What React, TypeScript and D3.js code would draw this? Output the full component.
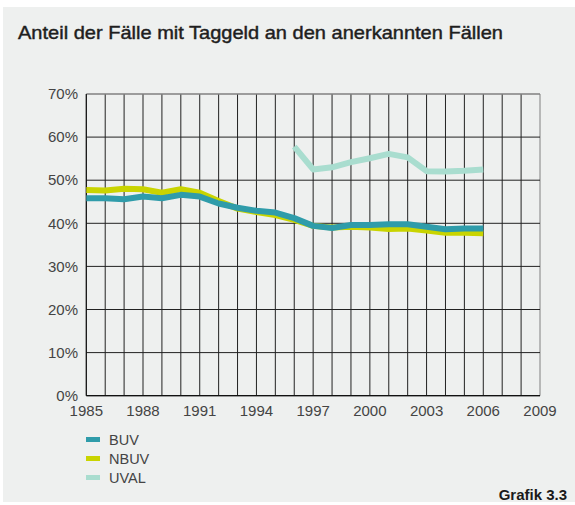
import React from "react";
import * as d3 from "d3";

// Daten (Prozent)
const years = [1985, 1986, 1987, 1988, 1989, 1990, 1991, 1992, 1993, 1994, 1995, 1996, 1997, 1998, 1999, 2000, 2001, 2002, 2003, 2004, 2005, 2006];
const buv = [45.8, 45.8, 45.6, 46.2, 45.8, 46.6, 46.2, 44.6, 43.6, 42.9, 42.5, 41.2, 39.4, 38.9, 39.6, 39.6, 39.8, 39.8, 39.2, 38.6, 38.8, 38.8];
const nbuv = [47.7, 47.6, 48.0, 47.9, 47.1, 47.9, 47.1, 45.2, 43.4, 42.6, 41.9, 40.8, 39.4, 39.0, 39.2, 39.0, 38.7, 38.8, 38.3, 37.8, 37.8, 37.7];
const uvalYears = [1996, 1997, 1998, 1999, 2000, 2001, 2002, 2003, 2004, 2005, 2006];
const uval = [57.8, 52.5, 53.0, 54.2, 55.1, 56.1, 55.3, 52.1, 52.0, 52.2, 52.5];
const xTicks = [1985, 1988, 1991, 1994, 1997, 2000, 2003, 2006, 2009];
const yTicks = [0, 10, 20, 30, 40, 50, 60, 70];
const seriesNames = ["BUV", "NBUV", "UVAL"];
const seriesColors = ["#2f9caa", "#c9d400", "#a9ddcf"];

const W = 575;
const H = 505;
const font = "'Liberation Sans', Arial, Helvetica, sans-serif";

export default function App() {
  const x = d3.scaleLinear().domain([1985, 2009]).range([86.3, 540]);
  const y = d3.scaleLinear().domain([0, 70]).range([395.7, 94]);
  const allYears = d3.range(1985, 2010);

  const line = d3
    .line<[number, number]>()
    .x((d) => x(d[0]))
    .y((d) => y(d[1]));

  const series = [
    years.map((yr, i) => [yr, buv[i]] as [number, number]),
    years.map((yr, i) => [yr, nbuv[i]] as [number, number]),
    uvalYears.map((yr, i) => [yr, uval[i]] as [number, number]),
  ];
  // NBUV liegt unter BUV
  const drawOrder = [1, 0, 2];

  return (
    <svg width={W} height={H} style={{ position: "absolute", left: 0, top: 0 }} fontFamily={font}>
      <rect x={0} y={0} width={W} height={H} fill="#fff" />
      <rect x={3} y={7} width={W - 3} height={H - 10} fill="#eef0ef" />
      <text x={18} y={39} fontSize={19} fill="#1e1e1e" stroke="#1e1e1e" strokeWidth={0.45} textLength={485} lengthAdjust="spacingAndGlyphs">
        Anteil der Fälle mit Taggeld an den anerkannten Fällen
      </text>

      {/* Gitter */}
      {allYears.map((yr) => (
        <line key={"v" + yr} x1={x(yr)} x2={x(yr)} y1={y(70)} y2={y(0)} stroke={yr === 2009 ? "#808080" : "#222"} strokeWidth={1} />
      ))}
      {yTicks.map((t) => (
        <line key={"h" + t} x1={x(1985)} x2={x(2009)} y1={y(t)} y2={y(t)} stroke={t === 70 ? "#808080" : "#222"} strokeWidth={t === 70 ? 1.5 : 1} />
      ))}
      <line x1={x(1985)} x2={x(1985)} y1={y(70)} y2={y(0)} stroke="#111" />
      <line x1={x(1985)} x2={x(2009)} y1={y(0)} y2={y(0)} stroke="#111" strokeWidth={1.2} />

      {/* Achsenbeschriftung */}
      {yTicks.map((t) => (
        <text key={"yl" + t} x={78} y={y(t)} dy="0.35em" textAnchor="end" fontSize={15} fill="#444">
          {t}%
        </text>
      ))}
      {xTicks.map((t) => (
        <text key={"xl" + t} x={x(t)} y={416} textAnchor="middle" fontSize={15} fill="#444">
          {t}
        </text>
      ))}

      {/* Linien */}
      {drawOrder.map((i) => (
        <path key={seriesNames[i]} d={line(series[i]) || ""} fill="none" stroke={seriesColors[i]} strokeWidth={6} strokeLinejoin="round" />
      ))}

      {/* Legende */}
      {seriesNames.map((name, i) => (
        <g key={name} transform={`translate(86, ${439.5 + i * 19})`}>
          <rect x={0} y={-2.5} width={14} height={5} fill={seriesColors[i]} />
          <text x={23} y={0} dy="0.35em" fontSize={14.5} fill="#444">
            {name}
          </text>
        </g>
      ))}

      <text x={567} y={500} textAnchor="end" fontSize={15} fontWeight="bold" fill="#1a1a1a">
        Grafik 3.3
      </text>
    </svg>
  );
}
